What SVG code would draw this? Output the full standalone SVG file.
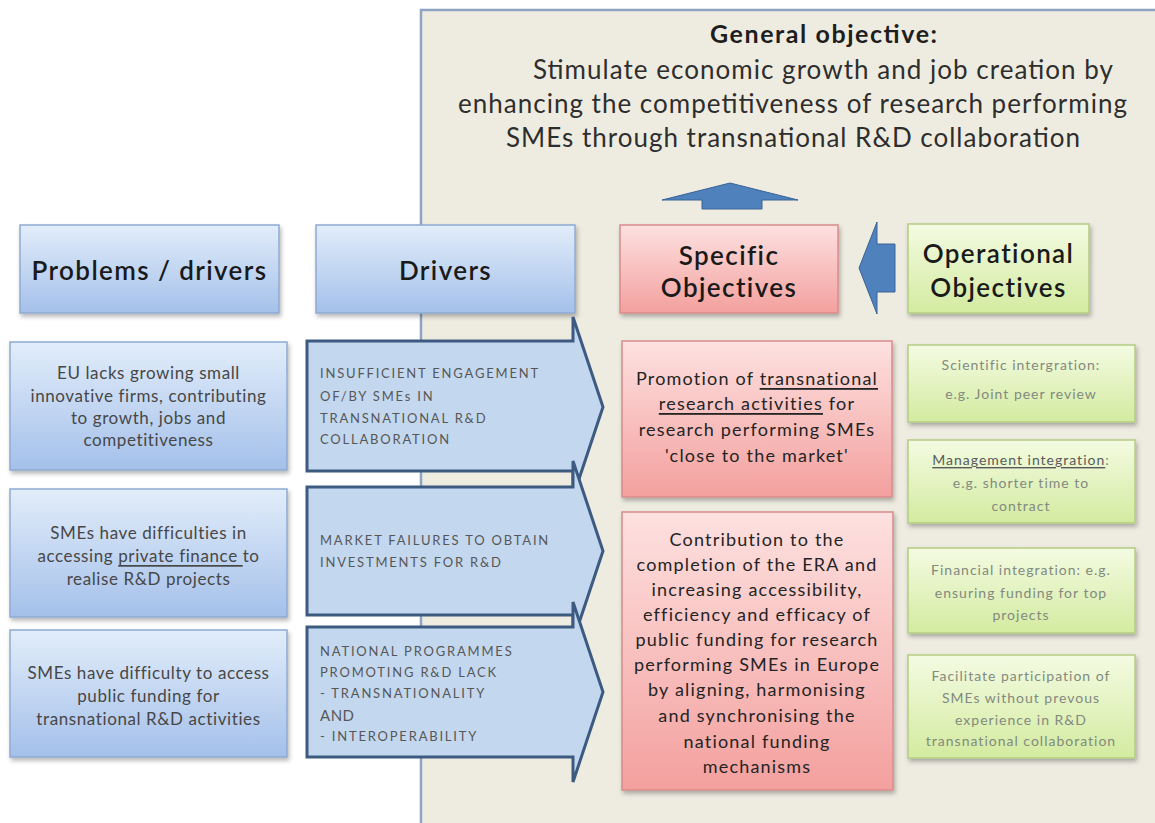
<svg xmlns="http://www.w3.org/2000/svg" width="1155" height="823" viewBox="0 0 1155 823">
  <defs>
    <linearGradient id="gBlue" x1="0" y1="0" x2="0" y2="1">
      <stop offset="0" stop-color="#e2edfa"/>
      <stop offset="1" stop-color="#a4c0ea"/>
    </linearGradient>
    <linearGradient id="gRed" x1="0" y1="0" x2="0" y2="1">
      <stop offset="0" stop-color="#fde1e0"/>
      <stop offset="1" stop-color="#f3a09e"/>
    </linearGradient>
    <linearGradient id="gGreen" x1="0" y1="0" x2="0" y2="1">
      <stop offset="0" stop-color="#f4fbe2"/>
      <stop offset="1" stop-color="#d3eba0"/>
    </linearGradient>
    <filter id="shadow" x="-10%" y="-10%" width="120%" height="130%">
      <feDropShadow dx="1.5" dy="3" stdDeviation="2" flood-color="#000" flood-opacity="0.28"/>
    </filter>
    <style>
      text { font-family: Lato, "Liberation Sans", sans-serif; }
      .panel { fill: #eeece1; stroke: #8fa4c3; stroke-width: 2.5; }
      .blue { fill: url(#gBlue); stroke: #8eaad2; stroke-width: 1.5; filter: url(#shadow); }
      .red { fill: url(#gRed); stroke: #d78c8a; stroke-width: 1.5; filter: url(#shadow); }
      .green { fill: url(#gGreen); stroke: #b3cd82; stroke-width: 1.5; filter: url(#shadow); }
      .chev { fill: #c3d7ef; stroke: #3d5a80; stroke-width: 3; stroke-linejoin: miter; }
      .bigarrow { fill: #4f81bd; stroke: #3a6296; stroke-width: 1; }
      .head { font-size: 26px; font-weight: 600; fill: #1a1a1a; letter-spacing: 1.4px; text-anchor: middle; dominant-baseline: central; }
      .goal { font-size: 26px; fill: #2e2e2e; }
      .goalhead { font-size: 25px; font-weight: 700; fill: #1e1e1e; }
      .prob { font-size: 17px; fill: #474747; text-anchor: middle; dominant-baseline: central; letter-spacing: 0.6px; }
      .drv { font-size: 13px; fill: #575757; dominant-baseline: central; letter-spacing: 1.8px; }
      .spec { font-size: 18px; fill: #242424; text-anchor: middle; dominant-baseline: central; letter-spacing: 1.2px; }
      .op { font-size: 14px; fill: #838a80; text-anchor: middle; dominant-baseline: central; letter-spacing: 1px; }
      .u { text-decoration: underline; }
    </style>
  </defs>

  <!-- background panel holding the objectives -->
  <rect class="panel" x="421" y="10" width="745" height="825"/>

  <!-- general objective -->
  <g id="general-objective">
    <text class="goalhead" x="710" y="43" textLength="227" lengthAdjust="spacing">General objective:</text>
    <text class="goal" x="533" y="79" textLength="580" lengthAdjust="spacing">Stimulate economic growth and job creation by</text>
    <text class="goal" x="458" y="113" textLength="669" lengthAdjust="spacing">enhancing the competitiveness of research performing</text>
    <text class="goal" x="506" y="147" textLength="574" lengthAdjust="spacing">SMEs  through transnational R&amp;D collaboration</text>
  </g>

  <!-- column headers -->
  <g id="hdr-problems">
    <rect class="blue" x="20" y="225" width="259" height="88"/>
    <text class="head" x="149.5" y="270">Problems / drivers</text>
  </g>
  <g id="hdr-drivers">
    <rect class="blue" x="316" y="225" width="259" height="88"/>
    <text class="head" x="445.5" y="270">Drivers</text>
  </g>
  <g id="hdr-specific">
    <rect class="red" x="620" y="225" width="218" height="88"/>
    <text class="head" x="729" y="255">Specific</text>
    <text class="head" x="729" y="287">Objectives</text>
  </g>
  <g id="hdr-operational">
    <rect class="green" x="908" y="224" width="181" height="89"/>
    <text class="head" x="998.5" y="253">Operational</text>
    <text class="head" x="998.5" y="287">Objectives</text>
  </g>

  <!-- problem boxes -->
  <g id="problem-1">
    <rect class="blue" x="10" y="342" width="277" height="128"/>
    <text class="prob" x="148.5" y="372">EU lacks growing small</text>
    <text class="prob" x="148.5" y="395">innovative firms, contributing</text>
    <text class="prob" x="148.5" y="417">to growth, jobs and</text>
    <text class="prob" x="148.5" y="439">competitiveness</text>
  </g>
  <g id="problem-2">
    <rect class="blue" x="10" y="489" width="277" height="128"/>
    <text class="prob" x="148.5" y="532">SMEs have difficulties in</text>
    <text class="prob" x="148.5" y="555">accessing <tspan class="u">private finance </tspan>to</text>
    <text class="prob" x="148.5" y="578">realise R&amp;D projects</text>
  </g>
  <g id="problem-3">
    <rect class="blue" x="10" y="630" width="277" height="127"/>
    <text class="prob" x="148.5" y="672">SMEs have difficulty to access</text>
    <text class="prob" x="148.5" y="695">public funding for</text>
    <text class="prob" x="148.5" y="718">transnational  R&amp;D activities</text>
  </g>

  <!-- driver chevrons -->
  <g id="driver-1">
    <path class="chev" d="M307,341 H573 V317 L603,407 L573,497 V471 H307 Z"/>
    <text class="drv" x="320" y="373">INSUFFICIENT ENGAGEMENT</text>
    <text class="drv" x="320" y="396">OF/BY SMEs IN</text>
    <text class="drv" x="320" y="418">TRANSNATIONAL R&amp;D</text>
    <text class="drv" x="320" y="439">COLLABORATION</text>
  </g>
  <g id="driver-2">
    <path class="chev" d="M307,487 H573 V461 L603,551 L573,641 V615 H307 Z"/>
    <text class="drv" x="320" y="540">MARKET FAILURES TO OBTAIN</text>
    <text class="drv" x="320" y="562">INVESTMENTS FOR R&amp;D</text>
  </g>
  <g id="driver-3">
    <path class="chev" d="M307,627 H573 V602 L603,692 L573,782 V757 H307 Z"/>
    <text class="drv" x="320" y="651">NATIONAL PROGRAMMES</text>
    <text class="drv" x="320" y="672">PROMOTING R&amp;D LACK</text>
    <text class="drv" x="320" y="693">- TRANSNATIONALITY</text>
    <text class="drv" x="320" y="715" style="font-size:15px;letter-spacing:0.5px">AND</text>
    <text class="drv" x="320" y="736">- INTEROPERABILITY</text>
  </g>

  <!-- specific objectives -->
  <g id="specific-1">
    <rect class="red" x="622" y="341" width="270" height="156"/>
    <text class="spec" x="757" y="378">Promotion of <tspan class="u">transnational</tspan></text>
    <text class="spec" x="757" y="403"><tspan class="u">research activities</tspan> for</text>
    <text class="spec" x="757" y="429">research performing SMEs</text>
    <text class="spec" x="757" y="455">'close to the market'</text>
  </g>
  <g id="specific-2">
    <rect class="red" x="622" y="512" width="271" height="278"/>
    <text class="spec" x="757" y="539">Contribution to the</text>
    <text class="spec" x="757" y="564">completion of the ERA and</text>
    <text class="spec" x="757" y="589">increasing accessibility,</text>
    <text class="spec" x="757" y="614">efficiency and efficacy of</text>
    <text class="spec" x="757" y="639">public funding for research</text>
    <text class="spec" x="757" y="664">performing SMEs in Europe</text>
    <text class="spec" x="757" y="689">by aligning, harmonising</text>
    <text class="spec" x="757" y="715">and synchronising the</text>
    <text class="spec" x="757" y="741">national funding</text>
    <text class="spec" x="757" y="766">mechanisms</text>
  </g>

  <!-- operational objectives -->
  <g id="operational-1">
    <rect class="green" x="908" y="345" width="227" height="77"/>
    <text class="op" x="1021" y="364">Scientific intergration:</text>
    <text class="op" x="1021" y="393">e.g. Joint peer review</text>
  </g>
  <g id="operational-2">
    <rect class="green" x="908" y="440" width="227" height="83"/>
    <text class="op" x="1021" y="459"><tspan class="u" fill="#5a5a5a">Management integration</tspan>:</text>
    <text class="op" x="1021" y="482">e.g. shorter time to</text>
    <text class="op" x="1021" y="505">contract</text>
  </g>
  <g id="operational-3">
    <rect class="green" x="908" y="548" width="227" height="85"/>
    <text class="op" x="1021" y="569">Financial integration: e.g.</text>
    <text class="op" x="1021" y="592">ensuring funding for top</text>
    <text class="op" x="1021" y="614">projects</text>
  </g>
  <g id="operational-4">
    <rect class="green" x="908" y="655" width="227" height="103"/>
    <text class="op" x="1021" y="675">Facilitate participation of</text>
    <text class="op" x="1021" y="697">SMEs without prevous</text>
    <text class="op" x="1021" y="719">experience in R&amp;D</text>
    <text class="op" x="1021" y="740">transnational collaboration</text>
  </g>

  <!-- block arrows linking the objective levels -->
  <g id="connectors">
    <path class="bigarrow" d="M730,183 L798,200 H762 V209 H702 V200 H662 Z"/>
    <path class="bigarrow" d="M859,268 L877,222 V244 H895 V292 H877 V314 Z"/>
  </g>
</svg>
